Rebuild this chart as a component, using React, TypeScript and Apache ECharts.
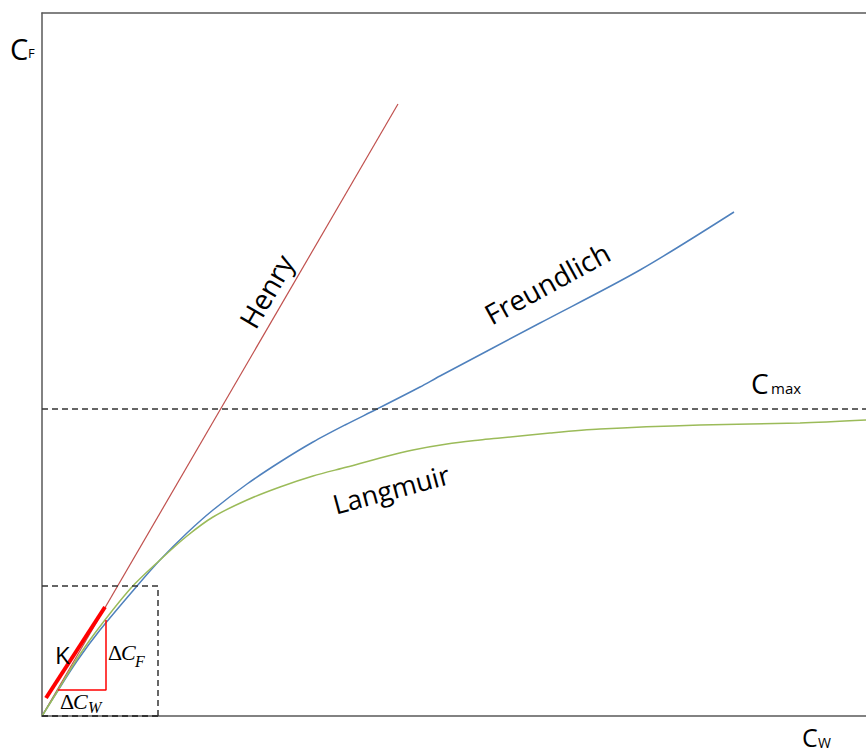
import React, { useEffect, useRef } from "react";
import * as echarts from "echarts";

// Plot extent in abstract concentration units
const X_MAX = 824;
const Y_MAX = 703;

// Linear (Henry) isotherm
const henry: number[][] = [
  [0, 0],
  [356, 612],
];

// Freundlich isotherm
const freundlich: number[][] = [
  [0, 0], [15, 24], [35, 55], [58, 86], [95, 130], [118, 156], [145, 183],
  [171, 206], [205, 232], [238, 254], [271, 274], [303, 291], [335, 307],
  [378, 329], [398, 340], [498, 393], [598, 446], [692, 504],
];

// Langmuir isotherm, levelling off just below Cmax
const langmuir: number[][] = [
  [0, 0], [15, 24], [33, 54], [53, 83], [89, 128], [118, 156], [145, 180],
  [171, 199], [205, 216], [238, 229], [271, 240], [305, 249], [338, 258],
  [371, 266], [405, 272], [438, 276], [458, 278], [508, 283], [558, 287],
  [658, 291], [758, 293], [824, 296],
];

// Saturation level
const cmax = 307;

// Low-concentration zoom box
const zoomBox: number[][] = [
  [0, 130], [116, 130], [116, 0],
];

// Slope triangle (ΔCw, ΔCf) and the tangent K
const slopeTriangle: number[][] = [
  [64, 96], [64, 26], [16, 26],
];
const tangentK: number[][] = [
  [4, 18], [63, 109],
];

const SANS = "'Open Sans', 'Noto Sans', sans-serif";
const SERIF = "'Liberation Serif', 'DejaVu Serif', serif";

export default function App() {
  const ref = useRef<HTMLDivElement>(null);

  useEffect(() => {
    if (!ref.current) return;
    const chart = echarts.init(ref.current, undefined, { renderer: "svg" });

    const axisLine = { show: true, lineStyle: { color: "#595959", width: 1.5 } };
    const hiddenAxis = {
      axisTick: { show: false },
      axisLabel: { show: false },
      splitLine: { show: false },
    };

    const plain = (name: string, data: number[][], color: string, width: number, extra: any = {}) => ({
      name,
      type: "line",
      data,
      symbol: "none",
      lineStyle: { color, width, ...(extra.lineStyle || {}) },
      smooth: extra.smooth ?? false,
      z: extra.z ?? 2,
      silent: true,
    });

    const text = (x: number, y: number, s: string, font: number, opts: any = {}) => ({
      type: "text",
      x,
      y,
      rotation: opts.rotation ?? 0,
      style: {
        text: s,
        fontSize: font,
        lineHeight: opts.lineHeight ?? font,
        fontFamily: opts.family ?? SANS,
        fontStyle: opts.italic ? "italic" : "normal",
        fill: "#000",
        align: opts.align ?? "left",
        verticalAlign: opts.valign ?? "middle",
      },
      z: 10,
    });

    chart.setOption({
      animation: false,
      backgroundColor: "#fff",
      grid: { left: 42, top: 13, width: 824, height: 703 },
      xAxis: [
        { type: "value", min: 0, max: X_MAX, position: "bottom", axisLine, ...hiddenAxis },
        { type: "value", min: 0, max: X_MAX, position: "top", axisLine, ...hiddenAxis },
      ],
      yAxis: { type: "value", min: 0, max: Y_MAX, axisLine, ...hiddenAxis },
      series: [
        plain("Henry", henry, "#C0504D", 1.2),
        plain("Freundlich", freundlich, "#4F81BD", 1.5, { smooth: 0.3 }),
        plain("Langmuir", langmuir, "#9BBB59", 1.5, { smooth: 0.3 }),
        plain("Cmax", [[0, cmax], [X_MAX, cmax]], "#333", 1.5, { lineStyle: { type: [6, 4] } }),
        plain("box", zoomBox, "#333", 1.5, { lineStyle: { type: [6, 4] } }),
        plain("box-bottom", [[0, 0], [116, 0]], "#333", 2, { lineStyle: { type: [6, 4] }, z: 3 }),
        plain("triangle", slopeTriangle, "#FF0000", 1.5, { z: 4 }),
        plain("K", tangentK, "#FF0000", 4, { z: 5 }),
      ],
      graphic: [
        // axis titles
        text(10, 48, "C", 29),
        text(28, 53, "F", 13),
        text(802, 737, "C", 25, { lineHeight: 20 }),
        text(818, 742, "W", 14),
        text(751, 383, "C", 28),
        text(771, 388, "max", 15),
        // curve names
        text(266, 291, "Henry", 28, { align: "center", rotation: (59.8 * Math.PI) / 180 }),
        text(547, 283, "Freundlich", 28, { align: "center", rotation: (28.7 * Math.PI) / 180 }),
        text(391, 489, "Langmuir", 27, { align: "center", rotation: (15 * Math.PI) / 180 }),
        // slope annotation
        text(55, 654, "K", 24),
        text(108, 652, "Δ", 22, { family: SERIF }),
        text(121, 652, "C", 22, { family: SERIF, italic: true }),
        text(135, 661, "F", 16, { family: SERIF, italic: true }),
        text(60, 701, "Δ", 22, { family: SERIF }),
        text(73, 701, "C", 22, { family: SERIF, italic: true }),
        text(88, 707, "W", 16, { family: SERIF, italic: true }),
      ],
    });

    return () => chart.dispose();
  }, []);

  return (
    <div
      ref={ref}
      style={{ position: "fixed", left: 0, top: 0, width: 866, height: 754, background: "#fff" }}
    />
  );
}
